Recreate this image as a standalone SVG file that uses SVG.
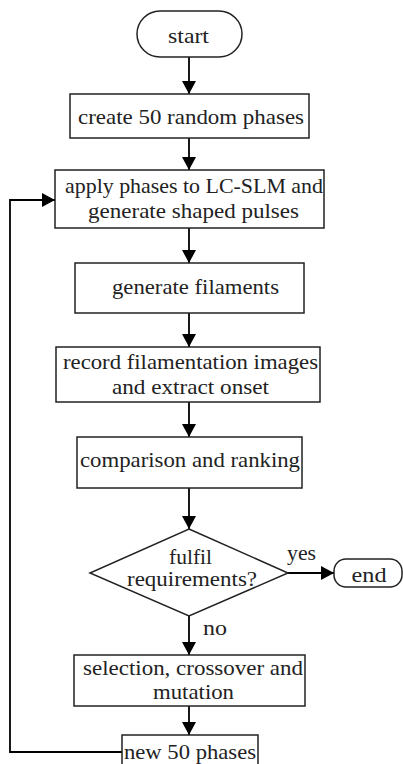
<svg xmlns="http://www.w3.org/2000/svg" width="403" height="764" viewBox="0 0 403 764">
<defs>
<marker id="ah" markerWidth="14" markerHeight="14" refX="13" refY="7" orient="auto" markerUnits="userSpaceOnUse">
<path d="M0,0 L13,7 L0,14 Z" fill="#000"/>
</marker>
<style>
.box{fill:#fff;stroke:#222;stroke-width:1.5}
.t{font-family:"Liberation Serif","Times New Roman",serif;font-size:22px;fill:#222;text-anchor:middle}
.s{font-size:20px}
.c{fill:none;stroke:#000;stroke-width:1.8}
</style>
</defs>
<rect width="403" height="764" fill="#fff"/>
<g id="connectors">
<line class="c" x1="189" y1="57" x2="189" y2="94" marker-end="url(#ah)"/>
<line class="c" x1="189" y1="138" x2="189" y2="170" marker-end="url(#ah)"/>
<line class="c" x1="189" y1="228" x2="189" y2="263" marker-end="url(#ah)"/>
<line class="c" x1="189" y1="313" x2="189" y2="347" marker-end="url(#ah)"/>
<line class="c" x1="189" y1="402" x2="189" y2="437" marker-end="url(#ah)"/>
<line class="c" x1="189" y1="488" x2="189" y2="529" marker-end="url(#ah)"/>
<line class="c" x1="288" y1="573" x2="334" y2="573" marker-end="url(#ah)"/>
<line class="c" x1="189" y1="616" x2="189" y2="655" marker-end="url(#ah)"/>
<line class="c" x1="189" y1="706" x2="189" y2="735" marker-end="url(#ah)"/>
<polyline class="c" points="122,752 10,752 10,200 55,200" marker-end="url(#ah)"/>
<text class="t" x="301.5" y="560" textLength="29" lengthAdjust="spacingAndGlyphs">yes</text>
<text class="t" x="215" y="635" textLength="24" lengthAdjust="spacingAndGlyphs">no</text>
</g>
<g id="start">
<rect class="box" x="137" y="11" width="105" height="46" rx="23"/>
<text class="t" x="188.5" y="43" textLength="41" lengthAdjust="spacingAndGlyphs">start</text>
</g>
<g id="create">
<rect class="box" x="70" y="94" width="239" height="44"/>
<text class="t" x="191" y="124" textLength="226" lengthAdjust="spacingAndGlyphs">create 50 random phases</text>
</g>
<g id="apply">
<rect class="box" x="55" y="170" width="269" height="58"/>
<text class="t" x="194" y="193" textLength="258" lengthAdjust="spacingAndGlyphs">apply phases to LC-SLM and</text>
<text class="t" x="193.5" y="218" textLength="211" lengthAdjust="spacingAndGlyphs">generate shaped pulses</text>
</g>
<g id="generate">
<rect class="box" x="75" y="263" width="229" height="50"/>
<text class="t" x="195.5" y="294" textLength="167" lengthAdjust="spacingAndGlyphs">generate filaments</text>
</g>
<g id="record">
<rect class="box" x="56" y="347" width="264" height="55"/>
<text class="t" x="190.5" y="369" textLength="255" lengthAdjust="spacingAndGlyphs">record filamentation images</text>
<text class="t" x="190.5" y="394" textLength="157" lengthAdjust="spacingAndGlyphs">and extract onset</text>
</g>
<g id="compare">
<rect class="box" x="77" y="437" width="225" height="51"/>
<text class="t" x="190" y="467" textLength="220" lengthAdjust="spacingAndGlyphs">comparison and ranking</text>
</g>
<g id="decision">
<polygon class="box" points="189,529 288,573 189,616 90,573"/>
<text class="t s" x="190.5" y="564" textLength="43" lengthAdjust="spacingAndGlyphs">fulfil</text>
<text class="t s" x="192" y="586" textLength="130" lengthAdjust="spacingAndGlyphs">requirements?</text>
</g>
<g id="end">
<rect class="box" x="334" y="559" width="68" height="28" rx="12"/>
<text class="t" x="369" y="582" textLength="35" lengthAdjust="spacingAndGlyphs">end</text>
</g>
<g id="selection">
<rect class="box" x="74" y="655" width="231" height="51"/>
<text class="t" x="193" y="675" textLength="220" lengthAdjust="spacingAndGlyphs">selection, crossover and</text>
<text class="t" x="193.5" y="699" textLength="81" lengthAdjust="spacingAndGlyphs">mutation</text>
</g>
<g id="newphases">
<rect class="box" x="122" y="735" width="136" height="32"/>
<text class="t" x="190" y="759" textLength="132" lengthAdjust="spacingAndGlyphs">new 50 phases</text>
</g>
</svg>
